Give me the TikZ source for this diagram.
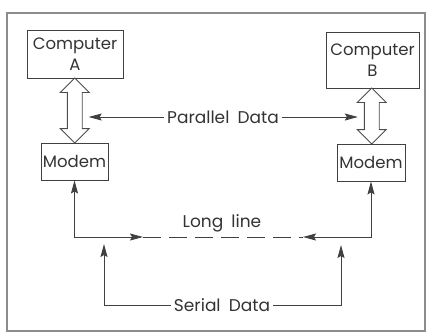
\documentclass[tikz,border=0pt]{standalone}
\usepackage{fontspec}
\setmainfont{Poppins}[WordSpace=1.8]
\usetikzlibrary{arrows.meta,shapes.arrows,calc}
\tikzset{
  unit/.style={draw=black!75, line width=0.9pt, align=center,
    inner sep=0pt, font=\fontsize{16.5}{21}\selectfont},
  busarrow/.style={draw=black!70, line width=0.9pt, shape=double arrow,
    shape border rotate=90, inner sep=7pt,
    double arrow head extend=7pt, minimum height=#1},
  lbl/.style={font=\fontsize{17}{19}\selectfont, inner sep=3pt},
  tip/.tip={Stealth[length=13pt,width=7pt,inset=2pt]},
  sig/.style={draw=black!75, line width=0.9pt, -tip}
}
\begin{document}
\begin{tikzpicture}[x=1pt, y=-1pt, black!80]
  \useasboundingbox (0,0) rectangle (436,335);
  % outer frame
  \draw[black!45, line width=1.2pt] (7,13) rectangle (425,331);

  % computers and modems
  \node[unit, minimum width=96pt, minimum height=48pt] (compA) at (75,54) {Computer\\A};
  \node[unit, minimum width=93pt, minimum height=56pt] (compB) at (372.5,60) {Computer\\B};
  \node[unit, minimum width=67pt, minimum height=37pt] (modemA) at (74.5,161.5) {Modem};
  \node[unit, minimum width=68pt, minimum height=37pt] (modemB) at (371,162.5) {Modem};

  % parallel links
  \node[busarrow=65pt] (busA) at ($(compA.south)!0.5!(modemA.north)$) {};
  \node[busarrow=56pt] (busB) at ($(compB.south)!0.5!(modemB.north)$) {};

  % labels
  \node[lbl] (par) at (223,117) {Parallel Data};
  \node[lbl] (long) at (222,223) {Long line};
  \node[lbl] (ser) at (222,305) {Serial Data};

  \draw[sig, shorten >=6pt] (par.west) -- (par.west -| busA.east);
  \draw[sig, shorten >=6pt] (par.east) -- (par.east -| busB.west);

  % long line
  \coordinate (lineA) at (143,237);
  \coordinate (lineB) at (303,237);
  \draw[sig, tip-tip] (modemA.south) |- (lineA);
  \draw[sig, tip-tip] (modemB.south) |- (lineB);
  \draw[black!75, line width=0.9pt, dash pattern=on 18pt off 8pt] (lineA) -- (lineB);

  % serial data
  \coordinate (serA) at (104,244);
  \coordinate (serB) at (341,245);
  \draw[sig] (ser.west) -| (serA);
  \draw[sig] (ser.east) -| (serB);
\end{tikzpicture}
\end{document}
